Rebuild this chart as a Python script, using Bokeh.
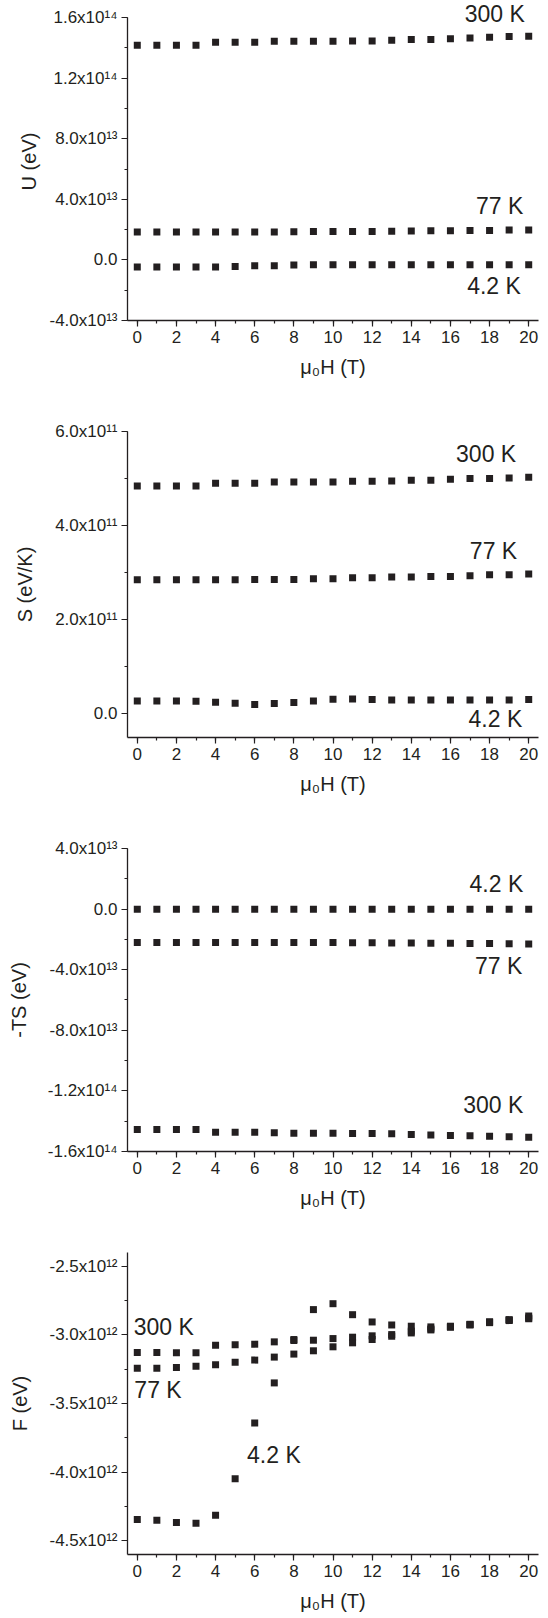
from bokeh.plotting import figure
from bokeh.layouts import column
from bokeh.models import Label, SingleIntervalTicker, CustomJSTickFormatter, Range1d
from bokeh.embed import file_html
from bokeh.resources import INLINE

# ---------------- data ----------------
field_T = list(range(21))  # mu0 H (T)

U_300 = [1.418e14, 1.418e14, 1.418e14, 1.417e14, 1.437e14, 1.437e14, 1.437e14, 1.444e14, 1.444e14, 1.444e14,
         1.444e14, 1.446e14, 1.446e14, 1.450e14, 1.455e14, 1.455e14, 1.461e14, 1.466e14, 1.470e14, 1.475e14, 1.477e14]
U_77 = [1.85e13, 1.85e13, 1.85e13, 1.85e13, 1.85e13, 1.85e13, 1.85e13, 1.85e13, 1.86e13, 1.87e13,
        1.87e13, 1.88e13, 1.88e13, 1.90e13, 1.91e13, 1.92e13, 1.93e13, 1.94e13, 1.95e13, 1.97e13, 1.98e13]
U_42 = [-4.6e12, -4.6e12, -4.6e12, -4.6e12, -4.6e12, -4.4e12, -3.9e12, -3.8e12, -3.3e12, -3.2e12,
        -3.2e12, -3.2e12, -3.2e12, -3.2e12, -3.2e12, -3.2e12, -3.2e12, -3.2e12, -3.2e12, -3.2e12, -3.2e12]

S_300 = [4.844e11, 4.844e11, 4.844e11, 4.840e11, 4.900e11, 4.900e11, 4.900e11, 4.929e11, 4.929e11, 4.929e11,
         4.929e11, 4.943e11, 4.943e11, 4.950e11, 4.965e11, 4.965e11, 4.986e11, 5.000e11, 5.000e11, 5.014e11, 5.028e11]
S_77 = [2.851e11, 2.851e11, 2.851e11, 2.851e11, 2.851e11, 2.851e11, 2.858e11, 2.858e11, 2.858e11, 2.872e11,
        2.872e11, 2.894e11, 2.894e11, 2.908e11, 2.908e11, 2.922e11, 2.922e11, 2.936e11, 2.957e11, 2.957e11, 2.972e11]
S_42 = [2.77e10, 2.77e10, 2.77e10, 2.70e10, 2.48e10, 2.27e10, 1.99e10, 2.20e10, 2.41e10, 2.77e10,
        3.12e10, 3.19e10, 3.05e10, 2.98e10, 2.98e10, 2.98e10, 2.98e10, 2.98e10, 2.98e10, 2.98e10, 3.05e10]

TS_42 = [-1.2e11, -1.2e11, -1.2e11, -1.1e11, -1.0e11, -1.0e11, -0.8e11, -0.9e11, -1.0e11, -1.2e11,
         -1.3e11, -1.3e11, -1.3e11, -1.3e11, -1.3e11, -1.3e11, -1.3e11, -1.3e11, -1.3e11, -1.3e11, -1.3e11]
TS_77 = [-2.198e13, -2.198e13, -2.198e13, -2.198e13, -2.198e13, -2.198e13, -2.200e13, -2.200e13, -2.200e13, -2.210e13,
         -2.210e13, -2.228e13, -2.228e13, -2.240e13, -2.240e13, -2.250e13, -2.250e13, -2.265e13, -2.275e13, -2.290e13, -2.300e13]
TS_300 = [-1.455e14, -1.455e14, -1.455e14, -1.455e14, -1.4725e14, -1.4725e14, -1.4725e14, -1.477e14, -1.479e14, -1.479e14,
          -1.479e14, -1.481e14, -1.481e14, -1.4835e14, -1.488e14, -1.492e14, -1.4945e14, -1.4967e14, -1.499e14, -1.503e14, -1.5055e14]

F_300 = [-3.128e12, -3.128e12, -3.130e12, -3.130e12, -3.075e12, -3.072e12, -3.068e12, -3.051e12, -3.041e12, -3.039e12,
         -3.027e12, -3.017e12, -3.007e12, -2.998e12, -2.973e12, -2.957e12, -2.942e12, -2.928e12, -2.911e12, -2.896e12, -2.877e12]
F_77 = [-3.244e12, -3.244e12, -3.237e12, -3.229e12, -3.217e12, -3.200e12, -3.184e12, -3.162e12, -3.140e12, -3.116e12,
        -3.087e12, -3.058e12, -3.034e12, -3.010e12, -2.986e12, -2.964e12, -2.944e12, -2.925e12, -2.906e12, -2.891e12, -2.882e12]
F_42 = [-4.345e12, -4.350e12, -4.367e12, -4.372e12, -4.314e12, -4.048e12, -3.642e12, -3.350e12, -3.034e12, -2.816e12,
        -2.773e12, -2.853e12, -2.906e12, -2.928e12, -2.937e12, -2.942e12, -2.937e12, -2.923e12, -2.906e12, -2.889e12, -2.862e12]

series_labels = ["300 K", "77 K", "4.2 K"]

INK = "#231f20"
FONT = "Liberation Sans"

fmt_code = """
if (Math.abs(tick) < 1e-3) { return "0.0"; }
const sup = {"0":"\u2070","1":"\u00b9","2":"\u00b2","3":"\u00b3","4":"\u2074","5":"\u2075","6":"\u2076","7":"\u2077","8":"\u2078","9":"\u2079","-":"\u207b"};
const e = Math.floor(Math.log10(Math.abs(tick)) + 1e-9);
const m = tick / Math.pow(10, e);
let s = m.toFixed(1) + "x10";
for (const c of String(e)) { s += sup[c]; }
return s;
"""


def make_panel(ylab, series, ylo, yhi, yint, height, top, bottom, left, labels, ystandoff,
               yview_hi=None):
    p = figure(width=548, height=height, output_backend="svg", toolbar_location=None,
               x_range=Range1d(-0.5, 20.5),
               y_range=Range1d(ylo, yview_hi if yview_hi is not None else yhi),
               min_border_left=left, min_border_right=10, min_border_top=top, min_border_bottom=bottom,
               background_fill_color="white", border_fill_color="white")
    p.outline_line_color = None
    p.grid.visible = False
    for ys in series:
        p.scatter(field_T, ys, marker="square", size=7, color=INK, line_width=0)

    p.xaxis.ticker = SingleIntervalTicker(interval=2, num_minor_ticks=2)
    p.yaxis.ticker = SingleIntervalTicker(interval=yint, num_minor_ticks=2)
    p.yaxis.formatter = CustomJSTickFormatter(code=fmt_code)
    if yview_hi is not None:
        p.yaxis.bounds = (ylo, yhi)
    for ax in (p.xaxis[0], p.yaxis[0]):
        ax.axis_line_color = INK
        ax.axis_line_width = 1.3
        ax.major_tick_line_color = INK
        ax.minor_tick_line_color = INK
        ax.major_tick_line_width = 1.2
        ax.minor_tick_line_width = 1.2
        ax.major_tick_out = 6
        ax.major_tick_in = 0
        ax.minor_tick_out = 3
        ax.minor_tick_in = 0
        ax.major_label_text_font = FONT
        ax.major_label_text_font_size = "17px"
        ax.major_label_text_color = INK
        ax.axis_label_text_font = FONT
        ax.axis_label_text_font_size = "20px"
        ax.axis_label_text_font_style = "normal"
        ax.axis_label_text_color = INK
    p.xaxis.axis_label = "\u03bc\u2080H (T)"
    p.xaxis.axis_label_standoff = 10
    p.xaxis.major_label_standoff = 4
    p.yaxis.axis_label = ylab
    p.yaxis.axis_label_standoff = ystandoff
    p.yaxis.major_label_standoff = 4

    for text, (x, y, align) in zip(series_labels, labels):
        p.add_layout(Label(x=x, y=y, text=text, text_align=align, text_baseline="middle",
                           text_font=FONT, text_font_size="23px", text_color=INK))
    return p


p1 = make_panel("U (eV)", [U_300, U_77, U_42], -4.0001e13, 1.6001e14, 4e13, 404, 2, 84, 127,
                [(19.8, 1.622e14, "right"), (19.72, 3.58e13, "right"), (19.6, -1.69e13, "right")], 6,
                yview_hi=1.7e14)
p2 = make_panel("S (eV/K)", [S_300, S_77, S_42], -5e10, 6.0001e11, 2e11, 404, 27, 71, 123,
                [(19.36, 5.53e11, "right"), (19.41, 3.47e11, "right"), (19.67, -1.02e10, "right")], 16)
p3 = make_panel("-TS (eV)", [TS_300, TS_77, TS_42], -1.6001e14, 4.0001e13, 4e13, 410, 40, 67, 127,
                [(19.72, -1.292e14, "right"), (19.67, -3.74e13, "right"), (19.72, 1.67e13, "right")], 15)
p4 = make_panel("F (eV)", [F_300, F_77, F_42], -4.6e12, -2.4e12, 5e11, 400, 34, 64, 127,
                [(-0.18, -2.946e12, "left"), (-0.15, -3.399e12, "left"), (5.61, -3.872e12, "left")], 15)

layout = column(p1, p2, p3, p4, spacing=0)

open("out.html", "w").write(file_html(layout, INLINE))
